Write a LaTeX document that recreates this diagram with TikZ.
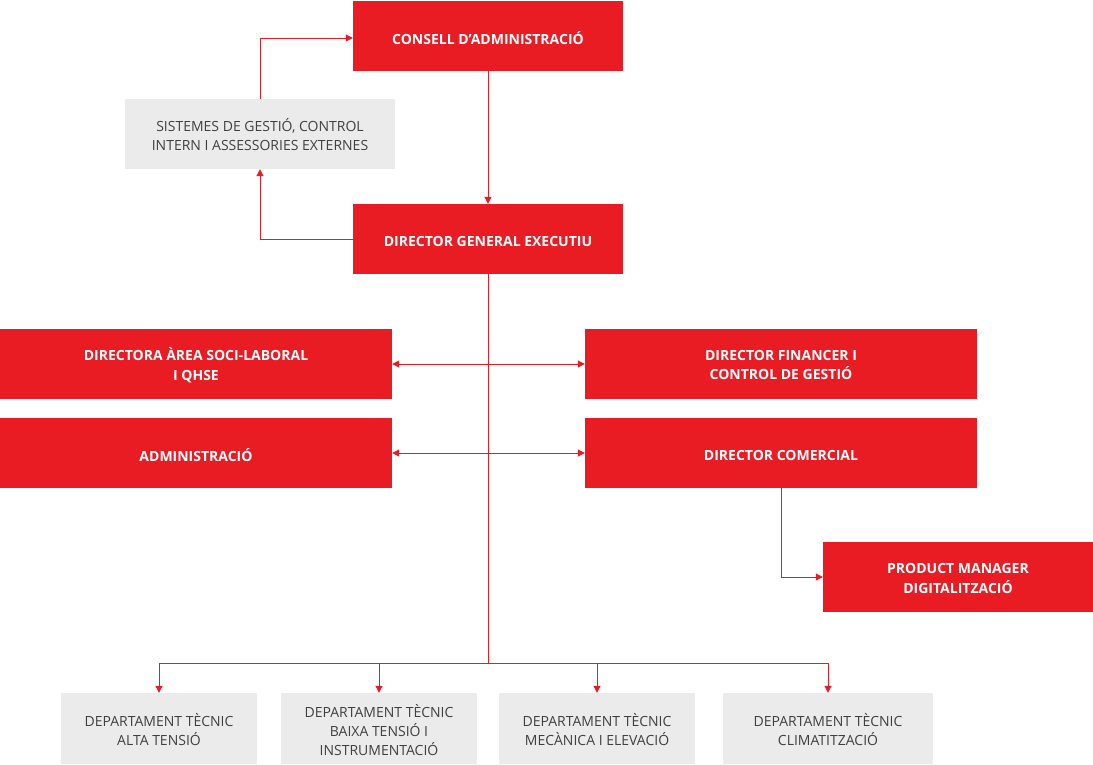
\documentclass[tikz,border=0pt]{standalone}
\usepackage{fontspec}
\setmainfont{Open Sans}
\usetikzlibrary{arrows.meta}
\definecolor{rd}{HTML}{E91C24}
\definecolor{gbox}{HTML}{EBEBEB}
\definecolor{gtxt}{HTML}{404040}
\tikzset{
  redbox/.style={fill=rd, inner sep=0pt, minimum height=70pt},
  graybox/.style={fill=gbox, inner sep=0pt, minimum height=70pt},
  rt/.style={text=white, font=\fontsize{14}{19.5}\selectfont\bfseries, align=center, inner sep=0pt, yshift=-2.5pt},
  gt/.style={text=gtxt, font=\fontsize{14}{19}\selectfont, align=center, inner sep=0pt, yshift=-1.5pt},
  conn/.style={draw=rd, line width=1pt},
  arr/.style={conn, -{Triangle[length=7pt,width=7pt]}},
  darr/.style={conn, {Triangle[length=7pt,width=7pt]}-{Triangle[length=7pt,width=7pt]}}
}
\begin{document}
\begin{tikzpicture}[x=1pt,y=-1pt]
\useasboundingbox (0,0) rectangle (1093,764);
\node[redbox, minimum width=270pt, label={[rt]center:CONSELL D’ADMINISTRACIÓ}] (cons) at (488,35.5) {};
\node[graybox, minimum width=270pt, label={[gt,yshift=1pt]center:SISTEMES DE GESTIÓ, CONTROL\\INTERN I ASSESSORIES EXTERNES}] (sist) at (260,134) {};
\node[redbox, minimum width=270pt, label={[rt]center:DIRECTOR GENERAL EXECUTIU}] (dg) at (488,239) {};
\node[redbox, minimum width=392pt, label={[rt,yshift=1.5pt]center:DIRECTORA ÀREA SOCI-LABORAL\\I QHSE}] (dasl) at (196,364) {};
\node[redbox, minimum width=392pt, label={[rt,yshift=1.5pt]center:DIRECTOR FINANCER I\\CONTROL DE GESTIÓ}] (dfin) at (781,364) {};
\node[redbox, minimum width=392pt, label={[rt]center:ADMINISTRACIÓ}] (adm) at (196,453) {};
\node[redbox, minimum width=392pt, label={[rt]center:DIRECTOR COMERCIAL}] (dcom) at (781,453) {};
\node[redbox, minimum width=270pt, label={[rt,yshift=1pt]center:PRODUCT MANAGER\\DIGITALITZACIÓ}] (pm) at (958,577) {};
\node[graybox, minimum width=196pt, minimum height=71pt, label={[gt]center:DEPARTAMENT TÈCNIC\\ALTA TENSIÓ}] (d1) at (159,728.5) {};
\node[graybox, minimum width=196pt, minimum height=71pt, label={[gt]center:DEPARTAMENT TÈCNIC\\BAIXA TENSIÓ I\\INSTRUMENTACIÓ}] (d2) at (379,728.5) {};
\node[graybox, minimum width=196pt, minimum height=71pt, label={[gt]center:DEPARTAMENT TÈCNIC\\MECÀNICA I ELEVACIÓ}] (d3) at (597,728.5) {};
\node[graybox, minimum width=210pt, minimum height=71pt, label={[gt]center:DEPARTAMENT TÈCNIC\\CLIMATITZACIÓ}] (d4) at (828,728.5) {};
\coordinate (bus) at (488,663);
\draw[arr] (sist.north) |- ([yshift=-2.5pt]cons.west);
\draw[arr] (cons.south) -- (dg.north);
\draw[arr] (dg.west) -| (sist.south);
\draw[conn] (dg.south) -- (bus);
\draw[darr] (dasl.east) -- (dfin.west);
\draw[darr] (adm.east) -- (dcom.west);
\draw[arr] (dcom.south) |- (pm.west);
\draw[conn] (d1.north |- bus) -- (d4.north |- bus);
\foreach \d in {d1,d2,d3,d4} \draw[arr] (\d.north |- bus) -- (\d.north);
\end{tikzpicture}
\end{document}
